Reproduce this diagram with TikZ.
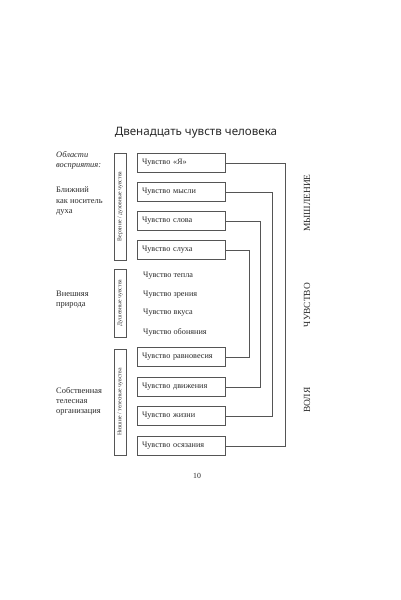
\documentclass[tikz,border=0pt]{standalone}
\usepackage{fontspec}
\setmainfont{Liberation Serif}
\newfontfamily\titlefont{Noto Sans}
\usetikzlibrary{positioning}
\definecolor{ink}{HTML}{2A2A2A}
\definecolor{linec}{HTML}{555555}
\tikzset{
  sense/.style={draw=linec, line width=0.6pt, minimum width=88pt, minimum height=19pt,
    text width=78pt, inner xsep=5pt, inner ysep=0pt, align=left, font=\fontsize{8.2}{9}\selectfont, text=ink},
  plain/.style={anchor=west, inner sep=0pt, font=\fontsize{8.2}{9}\selectfont, text=ink},
  groupbox/.style={draw=linec, line width=0.6pt, rotate=90, minimum height=12pt, inner sep=0pt,
    font=\fontsize{5.8}{6}\selectfont, text=ink},
  area/.style={anchor=north west, inner sep=0pt, align=left, font=\fontsize{8.4}{10.2}\selectfont, text=ink},
  mode/.style={rotate=90, inner sep=0pt, font=\fontsize{9.4}{10}\selectfont, text=ink},
  link/.style={draw=linec, line width=0.6pt}
}
\begin{document}
\begin{tikzpicture}[x=1pt,y=-1pt]
\useasboundingbox (0,0) rectangle (400,600);
\fill[white] (0,0) rectangle (400,600);
\node[text=ink, font=\titlefont\fontsize{11.6}{13}\selectfont] (title) at (196,133) {Двенадцать чувств человека};

% areas
\node[area, font=\itshape\fontsize{8.4}{10.2}\selectfont] (a0) at (56,151) {Области\\восприятия:};
\node[area] (a1) at (56,187) {Ближний\\как носитель\\духа};
\node[area] (a2) at (56,291) {Внешняя\\природа};
\node[area] (a3) at (56,387) {Собственная\\телесная\\организация};

% group boxes
\node[groupbox, minimum width=107pt] (g1) at (120,206.5) {Верхние / духовные чувства};
\node[groupbox, minimum width=68pt] (g2) at (120,303) {Душевные чувства};
\node[groupbox, minimum width=106pt] (g3) at (120,402) {Низшие / телесные чувства};

% senses
\node[sense] (s1) at (181,163) {Чувство «Я»};
\node[sense] (s2) at (181,192) {Чувство мысли};
\node[sense] (s3) at (181,221) {Чувство слова};
\node[sense] (s4) at (181,250) {Чувство слуха};
\node[plain] (t1) at (143,276) {Чувство тепла};
\node[plain] (t2) at (143,295) {Чувство зрения};
\node[plain] (t3) at (143,313) {Чувство вкуса};
\node[plain] (t4) at (143,332) {Чувство обоняния};
\node[sense] (b1) at (181,357) {Чувство равновесия};
\node[sense] (b2) at (181,387) {Чувство движения};
\node[sense] (b3) at (181,416) {Чувство жизни};
\node[sense] (b4) at (181,446) {Чувство осязания};

% connectors
\draw[link] (s1.east) -- (s1.east -| 285,0) |- (b4.east);
\draw[link] (s2.east) -- (s2.east -| 272,0) |- (b3.east);
\draw[link] (s3.east) -- (s3.east -| 260,0) |- (b2.east);
\draw[link] (s4.east) -- (s4.east -| 249,0) |- (b1.east);

% modes
\node[mode] (m1) at (307,203) {МЫШЛЕНИЕ};
\node[mode] (m2) at (307,305) {ЧУВСТВО};
\node[mode] (m3) at (307,400) {ВОЛЯ};

\node[text=ink, font=\fontsize{7.8}{9}\selectfont] (page) at (197,476) {10};
\end{tikzpicture}
\end{document}
